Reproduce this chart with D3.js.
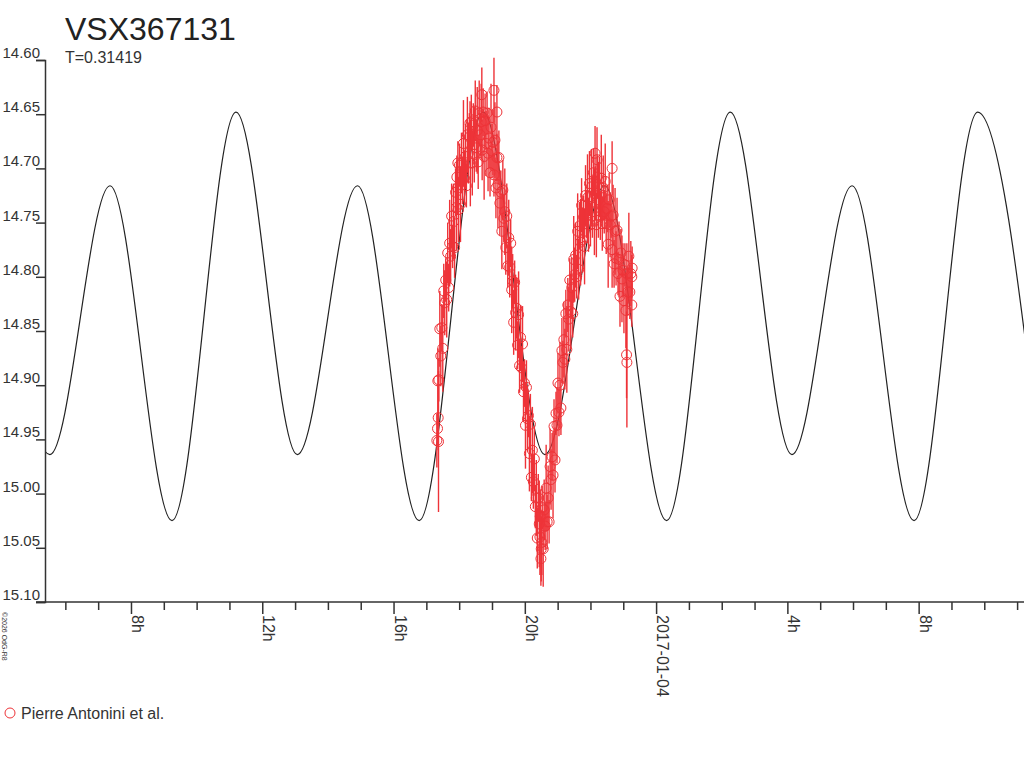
<!DOCTYPE html>
<html>
<head>
<meta charset="utf-8">
<title>VSX367131</title>
<script src="https://cdn.jsdelivr.net/npm/d3@7/dist/d3.min.js"></script>
<style>
    html, body { margin: 0; padding: 0; background: #fff; }
    svg { display: block; font-family: "Liberation Sans", Arial, sans-serif; }
</style>
</head>
<body>
<div id="chart"></div>
<script>
// Time is in hours since 2017-01-03 00:00 UT, brightness in magnitudes

// Fitted light curve: maxima and minima
const modelHours = [3.66, 5.53, 7.36, 9.25, 11.20, 13.07, 14.90, 16.78, 18.73,
    20.61, 22.43, 24.32, 26.26, 28.14, 29.97, 31.86, 33.80, 35.68];
const modelMags = [14.648, 14.964, 14.716, 15.025, 14.648, 14.964, 14.716, 15.025, 14.648,
    14.964, 14.716, 15.025, 14.648, 14.964, 14.716, 15.025, 14.648, 14.964];

// Observations (Pierre Antonini et al.): [hour, magnitude, error]
const antonini = [
    [17.32,14.951,0.025],[17.35,14.896,0.030],[17.38,14.895,0.020],[17.41,14.848,0.035],
    [17.44,14.873,0.028],[17.47,14.847,0.022],[17.50,14.866,0.040],[17.53,14.813,0.025],
    [17.56,14.824,0.030],[17.59,14.803,0.020],[17.62,14.821,0.035],[17.65,14.778,0.028],
    [17.68,14.810,0.022],[17.71,14.769,0.040],[17.74,14.781,0.025],[17.77,14.744,0.030],
    [17.80,14.772,0.020],[17.83,14.749,0.035],[17.86,14.773,0.028],[17.89,14.722,0.022],
    [17.92,14.736,0.040],[17.95,14.718,0.025],[17.98,14.738,0.030],[18.01,14.697,0.020],
    [18.04,14.733,0.035],[18.07,14.695,0.028],[18.10,14.711,0.022],[18.13,14.677,0.040],
    [18.16,14.709,0.025],[18.19,14.689,0.030],[18.22,14.716,0.020],[18.25,14.669,0.035],
    [18.28,14.686,0.028],[18.31,14.671,0.022],[18.34,14.695,0.040],[18.37,14.657,0.025],
    [18.40,14.695,0.030],[18.43,14.660,0.020],[18.46,14.678,0.035],[18.49,14.647,0.028],
    [18.52,14.681,0.022],[18.55,14.665,0.040],[18.58,14.694,0.025],[18.61,14.649,0.030],
    [18.64,14.669,0.020],[18.67,14.657,0.035],[18.70,14.683,0.028],[18.73,14.648,0.022],
    [18.76,14.689,0.040],[18.79,14.656,0.025],[18.82,14.677,0.030],[18.85,14.649,0.020],
    [18.88,14.686,0.035],[18.91,14.672,0.028],[18.94,14.704,0.022],[18.97,14.662,0.040],
    [19.00,14.684,0.025],[19.03,14.676,0.030],[19.06,14.706,0.020],[19.09,14.674,0.035],
    [19.12,14.718,0.028],[19.15,14.690,0.022],[19.18,14.715,0.040],[19.21,14.690,0.025],
    [19.24,14.732,0.030],[19.27,14.722,0.020],[19.30,14.758,0.035],[19.33,14.720,0.028],
    [19.36,14.746,0.022],[19.39,14.740,0.040],[19.42,14.773,0.025],[19.45,14.744,0.030],
    [19.48,14.790,0.020],[19.51,14.764,0.035],[19.54,14.791,0.028],[19.57,14.769,0.022],
    [19.60,14.812,0.040],[19.63,14.804,0.025],[19.66,14.842,0.030],[19.69,14.805,0.020],
    [19.72,14.833,0.035],[19.75,14.829,0.028],[19.78,14.863,0.022],[19.81,14.835,0.040],
    [19.84,14.882,0.025],[19.87,14.856,0.030],[19.90,14.884,0.020],[19.93,14.862,0.035],
    [19.96,14.906,0.028],[19.99,14.898,0.022],[20.02,14.937,0.040],[20.05,14.902,0.025],
    [20.08,14.931,0.030],[20.11,14.928,0.020],[20.14,14.963,0.035],[20.17,14.936,0.028],
    [20.20,14.985,0.022],[20.23,14.960,0.040],[20.26,14.989,0.025],[20.29,14.968,0.030],
    [20.32,15.012,0.020],[20.35,15.004,0.035],[20.38,15.041,0.028],[20.41,15.004,0.022],
    [20.44,15.028,0.040],[20.47,15.021,0.025],[20.50,15.051,0.030],[20.53,15.013,0.020],
    [20.56,15.051,0.035],[20.59,15.015,0.028],[20.62,15.030,0.022],[20.65,14.995,0.040],
    [20.68,15.026,0.025],[20.71,15.004,0.030],[20.74,15.026,0.020],[20.77,14.975,0.035],
    [20.80,14.987,0.028],[20.83,14.966,0.022],[20.86,14.983,0.040],[20.89,14.938,0.025],
    [20.92,14.969,0.030],[20.95,14.926,0.020],[20.98,14.937,0.035],[21.01,14.898,0.028],
    [21.04,14.925,0.022],[21.07,14.900,0.040],[21.10,14.921,0.025],[21.13,14.868,0.030],
    [21.16,14.879,0.020],[21.19,14.858,0.035],[21.22,14.876,0.028],[21.25,14.834,0.022],
    [21.28,14.867,0.040],[21.31,14.826,0.025],[21.34,14.839,0.030],[21.37,14.803,0.020],
    [21.40,14.832,0.035],[21.43,14.810,0.028],[21.46,14.834,0.022],[21.49,14.784,0.040],
    [21.52,14.798,0.025],[21.55,14.780,0.030],[21.58,14.800,0.020],[21.61,14.758,0.035],
    [21.64,14.793,0.028],[21.67,14.753,0.022],[21.70,14.768,0.040],[21.73,14.734,0.025],
    [21.76,14.766,0.030],[21.79,14.745,0.020],[21.82,14.772,0.035],[21.85,14.725,0.028],
    [21.88,14.742,0.022],[21.91,14.727,0.040],[21.94,14.752,0.025],[21.97,14.714,0.030],
    [22.00,14.752,0.020],[22.03,14.717,0.035],[22.06,14.736,0.028],[22.09,14.704,0.022],
    [22.12,14.740,0.040],[22.15,14.723,0.025],[22.18,14.752,0.030],[22.21,14.708,0.020],
    [22.24,14.729,0.035],[22.27,14.717,0.028],[22.30,14.744,0.022],[22.33,14.709,0.040],
    [22.36,14.751,0.025],[22.39,14.718,0.030],[22.42,14.740,0.020],[22.45,14.712,0.035],
    [22.48,14.751,0.028],[22.51,14.737,0.022],[22.54,14.770,0.040],[22.57,14.729,0.025],
    [22.60,14.752,0.030],[22.63,14.744,0.020],[22.66,14.775,0.035],[22.69,14.743,0.028],
    [22.72,14.788,0.022],[22.75,14.758,0.040],[22.78,14.783,0.025],[22.81,14.757,0.030],
    [22.84,14.797,0.020],[22.87,14.784,0.035],[22.90,14.818,0.028],[22.93,14.778,0.022],
    [22.96,14.802,0.040],[22.99,14.794,0.025],[23.02,14.822,0.030],[23.05,14.789,0.020],
    [23.08,14.831,0.035],[23.11,14.797,0.028],[23.14,14.814,0.022],[23.17,14.781,0.040],
    [23.20,14.814,0.025],[23.23,14.797,0.030],[23.26,14.826,0.020],
    // isolated points standing out of the cloud
    [17.34,14.940,0.015],[17.36,14.930,0.030],[17.37,14.952,0.065],[17.93,14.708,0.020],
    [17.96,14.695,0.020],[18.33,14.658,0.020],[18.69,14.632,0.025],[19.06,14.628,0.030],
    [19.15,14.648,0.025],[20.46,15.040,0.035],[20.49,15.060,0.025],[20.52,15.045,0.030],
    [22.14,14.686,0.025],[22.20,14.692,0.030],[22.66,14.700,0.025],[23.10,14.872,0.040],
    [23.11,14.879,0.060],[23.26,14.800,0.020],[23.27,14.792,0.020]
];

// Axis ticks
const magTicks = [14.60, 14.65, 14.70, 14.75, 14.80, 14.85, 14.90, 14.95, 15.00, 15.05, 15.10];
const hourTicks = d3.range(6, 36);            // one tick per hour
const labelHours = [8, 12, 16, 20, 24, 28, 32];
const labelTexts = ["8h", "12h", "16h", "20h", "2017-01-04", "4h", "8h"];

const title = "VSX367131";
const subtitle = "T=0.31419";
const legendName = "Pierre Antonini et al.";
const credit = "\u00a92026 OdG-R8";

const width = 1024;
const height = 768;
const plotLeft = 45, plotRight = 1024, plotTop = 60, plotBottom = 602;
const red = "#ee3338";
const ink = "#333";

const svg = d3.select("#chart")
    .append("svg")
    .attr("width", width)
    .attr("height", height);

const x = d3.scaleLinear().domain([5.38, 35.21]).range([plotLeft, plotRight]);
const y = d3.scaleLinear().domain([14.60, 15.10]).range([plotTop, plotBottom]);

svg.append("defs").append("clipPath")
    .attr("id", "plot-clip")
    .append("rect")
    .attr("x", plotLeft)
    .attr("y", 0)
    .attr("width", plotRight - plotLeft)
    .attr("height", plotBottom);

// Title block
svg.append("text")
    .attr("x", 65)
    .attr("y", 40)
    .attr("font-size", "32px")
    .attr("fill", "#222")
    .text(title);

svg.append("text")
    .attr("x", 65)
    .attr("y", 63)
    .attr("font-size", "16px")
    .attr("fill", ink)
    .text(subtitle);

// Model light curve
const line = d3.line()
    .x(function (d, i) { return x(modelHours[i]); })
    .y(function (d) { return y(d); })
    .curve(d3.curveMonotoneX);

svg.append("path")
    .attr("clip-path", "url(#plot-clip)")
    .attr("d", line(modelMags))
    .attr("fill", "none")
    .attr("stroke", "#222")
    .attr("stroke-width", 1.2);

// Observations: error bars then circles
const obs = svg.append("g").attr("clip-path", "url(#plot-clip)");

obs.selectAll(".err")
    .data(antonini)
    .enter()
    .append("line")
    .attr("class", "err")
    .attr("x1", function (d) { return x(d[0]); })
    .attr("x2", function (d) { return x(d[0]); })
    .attr("y1", function (d) { return y(d[1] - d[2]); })
    .attr("y2", function (d) { return y(d[1] + d[2]); })
    .attr("stroke", red)
    .attr("stroke-width", 1.4);

obs.selectAll(".pt")
    .data(antonini)
    .enter()
    .append("circle")
    .attr("class", "pt")
    .attr("cx", function (d) { return x(d[0]); })
    .attr("cy", function (d) { return y(d[1]); })
    .attr("r", 5)
    .attr("fill", "none")
    .attr("stroke", red)
    .attr("stroke-width", 1);

// Y axis
const yAxis = svg.append("g")
    .attr("transform", "translate(" + plotLeft + ",0)")
    .call(d3.axisLeft(y)
        .tickValues(magTicks)
        .tickSize(9)
        .tickFormat(d3.format(".2f")));

yAxis.select(".domain").attr("stroke", ink).attr("stroke-width", 1.5);
yAxis.selectAll(".tick line").attr("stroke", ink).attr("stroke-width", 1.5);
yAxis.selectAll(".tick text")
    .attr("x", -5)
    .attr("dy", "-0.17em")
    .attr("font-size", "15px")
    .attr("font-family", "Liberation Sans, Arial, sans-serif")
    .attr("fill", ink);

// X axis
const xAxis = svg.append("g")
    .attr("transform", "translate(0," + plotBottom + ")")
    .call(d3.axisBottom(x)
        .tickValues(hourTicks)
        .tickSize(8)
        .tickFormat(""));

xAxis.select(".domain").remove();
xAxis.selectAll(".tick line")
    .attr("stroke", ink)
    .attr("stroke-width", 1.5)
    .attr("y2", function (d) { return labelHours.indexOf(d) >= 0 ? 12 : 8; });

svg.append("line")
    .attr("x1", 36)
    .attr("x2", plotRight)
    .attr("y1", plotBottom)
    .attr("y2", plotBottom)
    .attr("stroke", ink)
    .attr("stroke-width", 1.5);

svg.selectAll(".xlabel")
    .data(labelHours)
    .enter()
    .append("text")
    .attr("class", "xlabel")
    .attr("transform", function (d) { return "translate(" + (x(d) + 1) + "," + (plotBottom + 13) + ") rotate(90)"; })
    .attr("font-size", "16px")
    .attr("fill", ink)
    .text(function (d, i) { return labelTexts[i]; });

// Credit line, bottom left
svg.append("text")
    .attr("transform", "translate(2,612) rotate(90)")
    .attr("font-size", "7px")
    .attr("fill", ink)
    .text(credit);

// Legend
svg.append("circle")
    .attr("cx", 10)
    .attr("cy", 713)
    .attr("r", 5)
    .attr("fill", "none")
    .attr("stroke", red)
    .attr("stroke-width", 1);

svg.append("text")
    .attr("x", 21)
    .attr("y", 719)
    .attr("font-size", "16px")
    .attr("fill", ink)
    .text(legendName);
</script>
</body>
</html>
